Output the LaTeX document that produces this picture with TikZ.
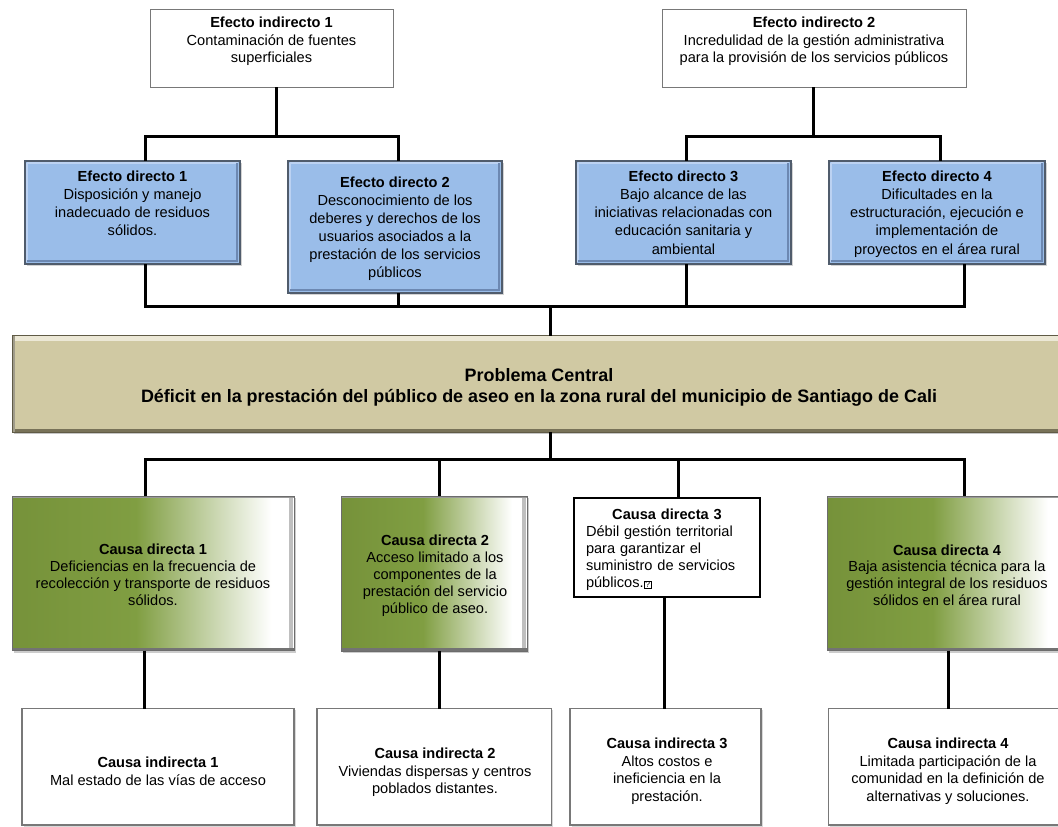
\documentclass[tikz,border=0pt]{standalone}
\usepackage{fontspec}
\setmainfont{Liberation Sans}
\usetikzlibrary{shadows,calc}
\definecolor{edblue}{RGB}{154,189,233}
\definecolor{edborder}{RGB}{80,92,108}
\definecolor{eddark}{RGB}{108,136,178}
\definecolor{edlight}{RGB}{188,210,242}
\definecolor{ctrtan}{RGB}{208,201,163}
\definecolor{ctrlight}{RGB}{236,232,214}
\definecolor{ctrdark}{RGB}{120,114,88}
\definecolor{cdgreen}{RGB}{118,146,58}
\definecolor{cdgreen2}{RGB}{128,158,66}
\definecolor{boxgray}{RGB}{120,120,120}
\pgfdeclarehorizontalshading{cdshade}{100bp}{color(0bp)=(cdgreen); color(25bp)=(cdgreen); color(47bp)=(cdgreen2); color(71bp)=(white); color(100bp)=(white)}
\newcommand\fst{\rule{0pt}{12pt}}
\newcommand\cst{\rule{0pt}{14.5pt}}
\newcommand\boxfont[1]{\fontsize{14.6pt}{#1}\selectfont}
\newcommand\qbox{\hspace{0.5pt}{\fboxsep=0.6pt\fboxrule=0.6pt\fbox{\fontsize{8.5pt}{8.5pt}\selectfont ?}}}
\tikzset{
  box/.style={rectangle, inner sep=0pt, outer sep=0pt},
  eibox/.style={box, fill=white, draw=boxgray, line width=0.9pt},
  edbox/.style={box, fill=edblue, draw=edborder, line width=1.2pt,
    drop shadow={shadow xshift=1.6pt, shadow yshift=-1.6pt, opacity=.35},
    path picture={
      \draw[edlight, line width=2pt] ([shift={(2.2pt,-2.2pt)}]path picture bounding box.north west) -- ([shift={(-2.2pt,-2.2pt)}]path picture bounding box.north east);
      \draw[edlight, line width=2pt] ([shift={(2.2pt,-2.2pt)}]path picture bounding box.north west) -- ([shift={(2.2pt,2.2pt)}]path picture bounding box.south west);
      \draw[eddark, line width=2.5pt] ([shift={(-3pt,-2.2pt)}]path picture bounding box.north east) -- ([shift={(-3pt,2.5pt)}]path picture bounding box.south east);
      \draw[eddark, line width=2.5pt] ([shift={(2.2pt,2.8pt)}]path picture bounding box.south west) -- ([shift={(-2.2pt,2.8pt)}]path picture bounding box.south east);
    }},
  ctrbox/.style={box, fill=ctrtan, draw=ctrdark!80!black, line width=1pt,
    drop shadow={shadow xshift=1.5pt, shadow yshift=-2pt, opacity=.45},
    path picture={
      \draw[ctrlight, line width=5pt] ([yshift=-3pt]path picture bounding box.north west) -- ([yshift=-3pt]path picture bounding box.north east);
      \draw[ctrdark, line width=3pt] ([yshift=2pt]path picture bounding box.south west) -- ([yshift=2pt]path picture bounding box.south east);
      \draw[ctrdark!70, line width=2pt] ([xshift=1.5pt]path picture bounding box.north west) -- ([xshift=1.5pt]path picture bounding box.south west);
    }},
  cdbox/.style={box, shading=cdshade, draw=boxgray!90!black, line width=1pt,
    drop shadow={shadow xshift=1.6pt, shadow yshift=-2pt, opacity=.4},
    path picture={
      \draw[black!25, line width=4pt] ([shift={(-3pt,-2pt)}]path picture bounding box.north east) -- ([shift={(-3pt,2pt)}]path picture bounding box.south east);
      \draw[black!55, line width=3pt] ([yshift=1.5pt]path picture bounding box.south west) -- ([yshift=1.5pt]path picture bounding box.south east);
      \draw[black!40, line width=2pt] ([yshift=-1pt]path picture bounding box.north west) -- ([yshift=-1pt]path picture bounding box.north east);
    }},
  cd3box/.style={box, fill=white, draw=black, line width=2pt},
  cibox/.style={box, fill=white, draw=boxgray, line width=1.5pt,
    drop shadow={shadow xshift=1.5pt, shadow yshift=-1.5pt, opacity=.3}},
  txt/.style={inner sep=0pt, outer sep=0pt, align=center, anchor=north},
  conn/.style={line width=3pt, black}
}
\begin{document}
\begin{tikzpicture}[x=1pt, y=-1pt]
\useasboundingbox (0,0) rectangle (1058,827);
\clip (0,0) rectangle (1058,827);

% ---------- indirect effects ----------
\node[eibox, minimum width=243pt, minimum height=78pt] (ei1) at (271.5,48) {};
\node[txt, font=\boxfont{17.6pt}] (ei1t) at (271.5,15.6)
  {\fst\textbf{Efecto indirecto 1}\\Contaminación de fuentes\\superficiales};
\node[eibox, minimum width=304pt, minimum height=78pt] (ei2) at (814,48) {};
\node[txt, font=\boxfont{17.6pt}] (ei2t) at (814,15.6)
  {\fst\textbf{Efecto indirecto 2}\\Incredulidad de la gestión administrativa\\para la provisión de los servicios públicos};

% ---------- direct effects ----------
\node[edbox, minimum width=215pt, minimum height=103pt] (ed1) at (132.5,212.5) {};
\node[txt, font=\boxfont{18.3pt}] (ed1t) at (132.5,169)
  {\fst\textbf{Efecto directo 1}\\Disposición y manejo\\inadecuado de residuos\\sólidos.};
\node[edbox, minimum width=214pt, minimum height=132pt] (ed2) at (395,227) {};
\node[txt, font=\boxfont{18pt}] (ed2t) at (395,175)
  {\fst\textbf{Efecto directo 2}\\Desconocimiento de los\\deberes y derechos de los\\usuarios asociados a la\\prestación de los servicios\\públicos};
\node[edbox, minimum width=215pt, minimum height=103pt] (ed3) at (683.5,212.5) {};
\node[txt, font=\boxfont{18.3pt}] (ed3t) at (683.5,169)
  {\fst\textbf{Efecto directo 3}\\Bajo alcance de las\\iniciativas relacionadas con\\educación sanitaria y\\ambiental};
\node[edbox, minimum width=216pt, minimum height=103pt] (ed4) at (937,212.5) {};
\node[txt, font=\boxfont{18.3pt}] (ed4t) at (937,169)
  {\fst\textbf{Efecto directo 4}\\Dificultades en la\\estructuración, ejecución e\\implementación de\\proyectos en el área rural};

% ---------- central problem ----------
\node[ctrbox, minimum width=1054pt, minimum height=96.4pt] (ctr) at (539,383.8) {};
\node[txt, font=\fontsize{17.95pt}{21.3pt}\selectfont\bfseries] (ctrt) at (539,366.5)
  {\cst Problema Central\\Déficit en la prestación del público de aseo en la zona rural del municipio de Santiago de Cali};

% ---------- direct causes ----------
\node[cdbox, minimum width=282pt, minimum height=154.5pt] (cd1) at (153,573.25) {};
\node[txt, font=\boxfont{16.9pt}] (cd1t) at (153,542.5)
  {\fst\textbf{Causa directa 1}\\Deficiencias en la frecuencia de\\recolección y transporte de residuos\\sólidos.};
\node[cdbox, minimum width=186pt, minimum height=155pt] (cd2) at (434,573.5) {};
\node[txt, font=\boxfont{17pt}] (cd2t) at (435,533.7)
  {\fst\textbf{Causa directa 2}\\Acceso limitado a los\\componentes de la\\prestación del servicio\\público de aseo.};
\node[cd3box, minimum width=186.8pt, minimum height=98.7pt] (cd3) at (667,547.15) {};
\node[txt, anchor=north west, align=left, text width=162pt, font=\boxfont{17.2pt}] (cd3t) at (586,507)
  {\fst\makebox[\linewidth]{\textbf{Causa directa 3}}\\Débil gestión territorial\\para garantizar el\\suministro de servicios\\públicos.\qbox};
\node[cdbox, minimum width=240pt, minimum height=154.5pt] (cd4) at (947,573.25) {};
\node[txt, font=\boxfont{16.9pt}] (cd4t) at (947,543)
  {\fst\textbf{Causa directa 4}\\Baja asistencia técnica para la\\gestión integral de los residuos\\sólidos en el área rural};

% ---------- indirect causes ----------
\node[cibox, minimum width=272pt, minimum height=116.4pt] (ci1) at (158,766.8) {};
\node[txt, font=\boxfont{17.6pt}] (ci1t) at (158,755.7)
  {\fst\textbf{Causa indirecta 1}\\Mal estado de las vías de acceso};
\node[cibox, minimum width=234.6pt, minimum height=116.4pt] (ci2) at (434.3,766.8) {};
\node[txt, font=\boxfont{17.6pt}] (ci2t) at (435,746.6)
  {\fst\textbf{Causa indirecta 2}\\Viviendas dispersas y centros\\poblados distantes.};
\node[cibox, minimum width=191pt, minimum height=116.4pt] (ci3) at (665.5,766.8) {};
\node[txt, font=\boxfont{17.6pt}] (ci3t) at (667,736.4)
  {\fst\textbf{Causa indirecta 3}\\Altos costos e\\ineficiencia en la\\prestación.};
\node[cibox, minimum width=238.3pt, minimum height=116.4pt] (ci4) at (947.85,766.8) {};
\node[txt, font=\boxfont{17.6pt}] (ci4t) at (948,736.4)
  {\fst\textbf{Causa indirecta 4}\\Limitada participación de la\\comunidad en la definición de\\alternativas y soluciones.};

% ---------- connectors ----------
\coordinate (j1) at (276,136);
\coordinate (j2) at (813,136);
\coordinate (j3) at (550.6,306);
\coordinate (j4) at (550.6,459.5);

\draw[conn] (ei1.south -| j1) -- (j1);
\draw[conn] ([xshift=12.5pt]ed1.north) |- (j1) -| ([xshift=3pt]ed2.north);
\draw[conn] (ei2.south -| j2) -- (j2);
\draw[conn] ([xshift=2.5pt]ed3.north) |- (j2) -| ([xshift=3pt]ed4.north);

\draw[conn] ([xshift=12.5pt]ed1.south) |- (j3) -| ([xshift=27pt]ed4.south);
\draw[conn] ([xshift=3pt]ed2.south) -- ([xshift=3pt]ed2.south |- j3);
\draw[conn] ([xshift=2.5pt]ed3.south) -- ([xshift=2.5pt]ed3.south |- j3);
\draw[conn] (j3) -- (j3 |- ctr.north);

\draw[conn] (ctr.south -| j4) -- (j4);
\draw[conn] ([xshift=-8pt]cd1.north) |- (j4) -| ([xshift=17pt]cd4.north);
\draw[conn] ([xshift=5pt]cd2.north) -- ([xshift=5pt]cd2.north |- j4);
\draw[conn] ([xshift=11pt]cd3.north) -- ([xshift=11pt]cd3.north |- j4);

\draw[conn] ([xshift=-9pt]cd1.south) -- ([xshift=-9pt]cd1.south |- ci1.north);
\draw[conn] ([xshift=5pt]cd2.south) -- ([xshift=5pt]cd2.south |- ci2.north);
\draw[conn] ([xshift=-3pt]cd3.south) -- ([xshift=-3pt]cd3.south |- ci3.north);
\draw[conn] ([xshift=1.6pt]cd4.south) -- ([xshift=1.6pt]cd4.south |- ci4.north);
\end{tikzpicture}
\end{document}
